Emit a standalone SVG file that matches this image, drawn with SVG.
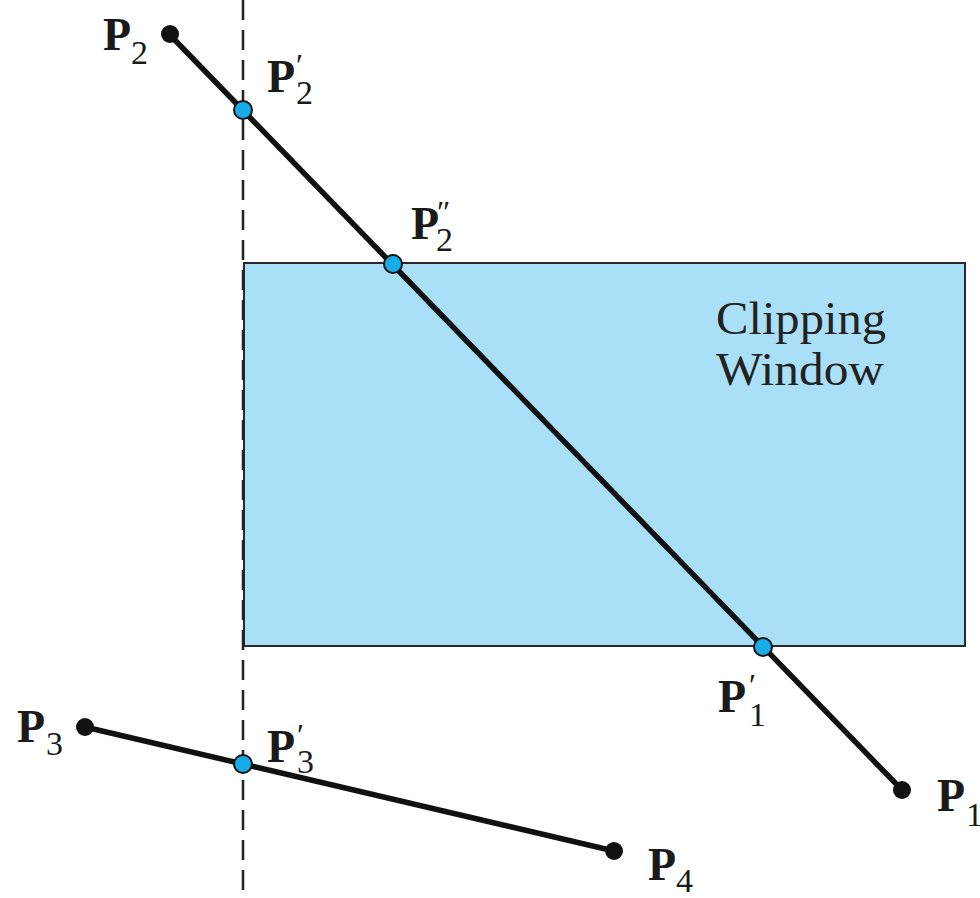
<svg xmlns="http://www.w3.org/2000/svg" width="980" height="898" viewBox="0 0 980 898">
<style>
.lbl{font-family:"Liberation Serif","Times New Roman",serif;font-weight:bold;font-size:46px;fill:#1a1a1a}
.sub{font-family:"Liberation Serif","Times New Roman",serif;font-weight:normal;font-size:34px;fill:#1a1a1a}
.pr{font-family:"Liberation Serif","Times New Roman",serif;font-weight:normal;font-size:32px;fill:#1a1a1a}
.win{font-family:"Liberation Serif","Times New Roman",serif;font-size:46px;fill:#222}
.seg{stroke:#111;stroke-width:5.5;stroke-linecap:round;fill:none}
.end{fill:#111}
.cut{fill:#18ace6;stroke:#111;stroke-width:2}
</style>
<rect width="980" height="898" fill="#ffffff"/>
<g id="window">
<rect x="244" y="263" width="721" height="383" fill="#aadff8" stroke="#2a2a2a" stroke-width="2"/>
<text class="win" x="716" y="334" textLength="170" lengthAdjust="spacingAndGlyphs">Clipping</text>
<text class="win" x="716" y="385" textLength="168" lengthAdjust="spacingAndGlyphs">Window</text>
</g>
<g id="connectors">
<line x1="243" y1="0" x2="243" y2="898" stroke="#222" stroke-width="2.5" stroke-dasharray="20 10"/>
<line class="seg" x1="170" y1="35" x2="902" y2="790"/>
<line class="seg" x1="85" y1="727" x2="614" y2="851"/>
</g>
<g id="P2"><circle class="end" cx="170" cy="34" r="9"/>
<text class="lbl" x="103" y="50">P</text><text class="sub" x="131" y="64">2</text></g>
<g id="P2p"><circle class="cut" cx="243" cy="110" r="9"/>
<text class="lbl" x="267" y="92">P</text><text class="pr" x="296" y="76">′</text><text class="sub" x="296" y="104">2</text></g>
<g id="P2pp"><circle class="cut" cx="393" cy="264" r="9"/>
<text class="lbl" x="411" y="239">P</text><text class="pr" x="437" y="223">″</text><text class="sub" x="436" y="251">2</text></g>
<g id="P1p"><circle class="cut" cx="763" cy="647" r="9"/>
<text class="lbl" x="718" y="712">P</text><text class="pr" x="749" y="696">′</text><text class="sub" x="749" y="726">1</text></g>
<g id="P1"><circle class="end" cx="902" cy="790" r="9"/>
<text class="lbl" x="937" y="811">P</text><text class="sub" x="966" y="826">1</text></g>
<g id="P3"><circle class="end" cx="85" cy="727" r="9"/>
<text class="lbl" x="17" y="742">P</text><text class="sub" x="46" y="755">3</text></g>
<g id="P3p"><circle class="cut" cx="243" cy="764" r="9"/>
<text class="lbl" x="267" y="762">P</text><text class="pr" x="297" y="746">′</text><text class="sub" x="297" y="773">3</text></g>
<g id="P4"><circle class="end" cx="614" cy="851" r="9"/>
<text class="lbl" x="648" y="880">P</text><text class="sub" x="676" y="892">4</text></g>
</svg>
